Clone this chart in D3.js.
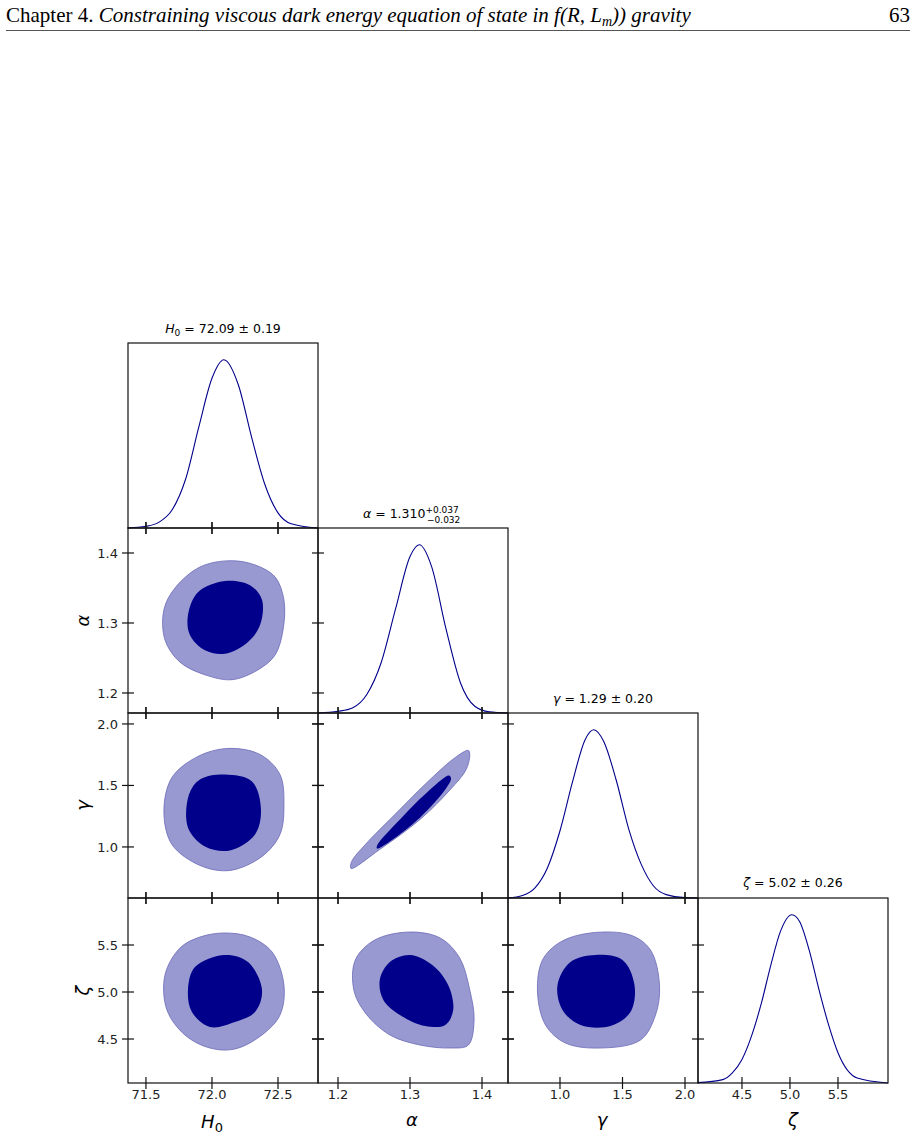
<!DOCTYPE html><html><head><meta charset="utf-8">
<script src="https://cdn.jsdelivr.net/npm/d3@7"></script>
<style>body{margin:0;background:#fff}</style></head><body>
<svg id="c" width="916" height="1137"></svg>
<script>
const params = ["H0","alpha","gamma","zeta"];
const axisLabels = ["H","α","γ","ζ"];
const titles = ["H0","alpha","gamma","zeta"];
const domains = [[71.364,72.803],[1.1722,1.4361],[0.584,2.104],[4.042,6.021]];
const yDomains = [null,[1.1714,1.4357],[0.585,2.089],[4.032,6.0]];
const ticks = [[71.5,72.0,72.5],[1.2,1.3,1.4],[1.0,1.5,2.0],[4.5,5.0,5.5]];
const tickFmt = [".1f",".1f",".1f",".1f"];
// 1D marginal densities
const dx = [
 [71.36,71.5,71.6,71.7,71.8,71.9,72.0,72.09,72.2,72.3,72.4,72.5,72.6,72.8],
 [1.172,1.2,1.22,1.24,1.26,1.28,1.30,1.313,1.33,1.35,1.37,1.39,1.41,1.436],
 [0.584,0.7,0.8,0.9,1.0,1.1,1.2,1.27,1.35,1.45,1.55,1.65,1.75,1.85,2.0,2.1],
 [4.04,4.3,4.4,4.5,4.6,4.7,4.8,4.9,5.02,5.1,5.2,5.3,5.4,5.5,5.7,6.02]];
const dy = [
 [0.0,0.01,0.035,0.11,0.29,0.6,0.89,1.0,0.85,0.54,0.26,0.09,0.025,0.0],
 [0,0.01,0.03,0.11,0.3,0.62,0.93,1.0,0.87,0.5,0.18,0.04,0.007,0],
 [0,0.015,0.06,0.18,0.4,0.69,0.94,1.0,0.93,0.7,0.41,0.2,0.07,0.02,0.002,0],
 [0.002,0.02,0.06,0.14,0.28,0.47,0.7,0.9,1.0,0.96,0.79,0.56,0.35,0.18,0.03,0.0]];
// 2D contours: [col,row, outerX, outerY, innerX, innerY]
const c_H0_alpha_outer_x=[72.136,72.326,72.477,72.545,72.538,72.477,72.348,72.152,71.947,71.758,71.644,71.636,71.720,71.909];
const c_H0_alpha_outer_y=[1.389,1.383,1.366,1.333,1.290,1.254,1.233,1.219,1.226,1.244,1.276,1.319,1.350,1.380];
const c_H0_alpha_inner_x=[72.098,72.288,72.379,72.364,72.273,72.098,71.947,71.833,71.818,71.894];
const c_H0_alpha_inner_y=[1.360,1.354,1.333,1.297,1.273,1.256,1.261,1.283,1.311,1.344];
const c_H0_gamma_outer_x=[72.121,72.364,72.515,72.545,72.515,72.379,72.136,71.909,71.697,71.636,71.697,71.894];
const c_H0_gamma_outer_y=[1.801,1.752,1.589,1.346,1.102,0.923,0.809,0.850,1.020,1.289,1.565,1.736];
const c_H0_gamma_inner_x=[72.098,72.303,72.371,72.326,72.136,71.947,71.818,71.826,71.909];
const c_H0_gamma_inner_y=[1.589,1.533,1.305,1.102,0.972,1.004,1.159,1.427,1.549];
const c_H0_zeta_outer_x=[72.098,72.288,72.455,72.545,72.515,72.379,72.174,71.985,71.795,71.659,71.644,71.758,71.909];
const c_H0_zeta_outer_y=[5.628,5.585,5.426,5.074,4.755,4.543,4.394,4.404,4.543,4.809,5.181,5.468,5.585];
const c_H0_zeta_inner_x=[72.098,72.273,72.379,72.326,72.174,71.985,71.848,71.818,71.871];
const c_H0_zeta_inner_y=[5.394,5.319,5.021,4.787,4.681,4.628,4.787,5.021,5.266];
const c_alpha_gamma_outer_x=[1.218,1.258,1.314,1.356,1.378,1.383,1.381,1.363,1.328,1.279,1.238,1.219];
const c_alpha_gamma_outer_y=[0.825,0.980,1.224,1.467,1.630,1.752,1.785,1.728,1.549,1.264,1.020,0.882];
const c_alpha_gamma_inner_x=[1.254,1.272,1.314,1.349,1.357,1.354,1.328,1.286,1.255];
const c_alpha_gamma_inner_y=[0.988,1.045,1.240,1.467,1.557,1.581,1.467,1.224,1.020];
const c_alpha_zeta_outer_x=[1.300,1.342,1.369,1.383,1.389,1.381,1.356,1.314,1.272,1.238,1.222,1.224,1.251];
const c_alpha_zeta_outer_y=[5.638,5.574,5.362,5.021,4.702,4.436,4.404,4.436,4.543,4.777,5.021,5.340,5.553];
const c_alpha_zeta_inner_x=[1.300,1.331,1.353,1.360,1.349,1.321,1.286,1.263,1.258,1.272];
const c_alpha_zeta_inner_y=[5.394,5.287,5.074,4.809,4.649,4.638,4.755,4.915,5.128,5.319];
const c_gamma_zeta_outer_x=[1.244,1.564,1.724,1.796,1.764,1.644,1.324,1.044,0.884,0.820,0.860,1.004];
const c_gamma_zeta_outer_y=[5.628,5.606,5.447,5.074,4.755,4.489,4.404,4.457,4.649,5.000,5.340,5.532];
const c_gamma_zeta_inner_x=[1.284,1.500,1.596,1.564,1.404,1.164,1.020,0.980,1.084];
const c_gamma_zeta_inner_y=[5.394,5.340,5.074,4.787,4.638,4.649,4.809,5.074,5.319];
const contours=[
 [0,1,c_H0_alpha_outer_x,c_H0_alpha_outer_y,c_H0_alpha_inner_x,c_H0_alpha_inner_y],
 [0,2,c_H0_gamma_outer_x,c_H0_gamma_outer_y,c_H0_gamma_inner_x,c_H0_gamma_inner_y],
 [0,3,c_H0_zeta_outer_x,c_H0_zeta_outer_y,c_H0_zeta_inner_x,c_H0_zeta_inner_y],
 [1,2,c_alpha_gamma_outer_x,c_alpha_gamma_outer_y,c_alpha_gamma_inner_x,c_alpha_gamma_inner_y],
 [1,3,c_alpha_zeta_outer_x,c_alpha_zeta_outer_y,c_alpha_zeta_inner_x,c_alpha_zeta_inner_y],
 [2,3,c_gamma_zeta_outer_x,c_gamma_zeta_outer_y,c_gamma_zeta_inner_x,c_gamma_zeta_inner_y]];

const svg=d3.select("#c");
const F="DejaVu Sans, sans-serif";
// header
svg.append("text").attr("x",6).attr("y",22).attr("font-family","Liberation Serif, serif").attr("font-size",21)
 .html('Chapter 4. <tspan font-style="italic">Constraining viscous dark energy equation of state in f(R, L</tspan><tspan font-style="italic" font-size="14" dy="4">m</tspan><tspan font-style="italic" dy="-4">)) gravity</tspan>');
svg.append("text").attr("x",910).attr("y",22).attr("text-anchor","end").attr("font-family","Liberation Serif, serif").attr("font-size",21).text("63");
svg.append("line").attr("x1",6).attr("x2",910).attr("y1",30.5).attr("y2",30.5).attr("stroke","#555").attr("stroke-width",1);

const X0=128,Y0=343,W=190,H=185;
const xs=domains.map((d,i)=>d3.scaleLinear().domain(d).range([X0+i*W,X0+(i+1)*W]));
const ys=yDomains.map((d,i)=>d?d3.scaleLinear().domain(d).range([Y0+(i+1)*H,Y0+i*H]):null);
const line=d3.line().curve(d3.curveCatmullRomClosed);
const navy="#00008b";

// contours
contours.forEach(([c,r,ox,oy,ix,iy])=>{
 svg.append("path").attr("d",line(ox.map((v,k)=>[xs[c](v),ys[r](oy[k])]))).attr("fill","#9999d1").attr("stroke","#6a6ab8").attr("stroke-width",0.8);
 svg.append("path").attr("d",line(ix.map((v,k)=>[xs[c](v),ys[r](iy[k])]))).attr("fill",navy);
});
// 1D
for(let i=0;i<4;i++){
 const yy=d3.scaleLinear().domain([0,1.1]).range([Y0+(i+1)*H,Y0+i*H]);
 svg.append("path").attr("d",d3.line().curve(d3.curveMonotoneX)(dx[i].map((v,k)=>[xs[i](v),yy(dy[i][k])])))
  .attr("fill","none").attr("stroke",navy).attr("stroke-width",1.1);
}
// frames and ticks
for(let r=0;r<4;r++)for(let c=0;c<=r;c++){
 const x=X0+c*W,y=Y0+r*H;
 svg.append("rect").attr("x",x).attr("y",y).attr("width",W).attr("height",H).attr("fill","none").attr("stroke","#111").attr("stroke-width",1.2);
 const g=svg.append("g").attr("stroke","#111").attr("stroke-width",1.2);
 ticks[c].forEach(t=>{const px=xs[c](t);
  g.append("line").attr("x1",px).attr("x2",px).attr("y1",y+H-6).attr("y2",y+H+6);
  if(r!==c) g.append("line").attr("x1",px).attr("x2",px).attr("y1",y-6).attr("y2",y+6);});
 if(r!==c) ticks[r].forEach(t=>{const py=ys[r](t);
  g.append("line").attr("y1",py).attr("y2",py).attr("x1",x-6).attr("x2",x+6);
  g.append("line").attr("y1",py).attr("y2",py).attr("x1",x+W-6).attr("x2",x+W+6);});
}
// tick labels
for(let c=0;c<4;c++) ticks[c].forEach(t=>svg.append("text").attr("x",xs[c](t)).attr("y",1099).attr("text-anchor","middle")
 .attr("font-family",F).attr("font-size",13).attr("fill","#222").text(d3.format(tickFmt[c])(t)));
for(let r=1;r<4;r++) ticks[r].forEach(t=>svg.append("text").attr("x",118).attr("y",ys[r](t)+5).attr("text-anchor","end")
 .attr("font-family",F).attr("font-size",13).attr("fill","#222").text(d3.format(tickFmt[r])(t)));
// axis labels
const labX=[212,412,602,793];
svg.append("text").attr("x",labX[0]).attr("y",1128).attr("text-anchor","middle").attr("font-family",F).attr("font-size",18).attr("font-style","italic")
 .html('H<tspan font-size="13" dy="4" font-style="normal">0</tspan>');
[1,2,3].forEach(i=>svg.append("text").attr("x",labX[i]).attr("y",1126).attr("text-anchor","middle").attr("font-family",F).attr("font-size",18).attr("font-style","italic").text(axisLabels[i]));
[1,2,3].forEach(i=>svg.append("text").attr("transform",`translate(89,${Y0+i*H+H/2}) rotate(-90)`).attr("text-anchor","middle").attr("font-family",F).attr("font-size",18).attr("font-style","italic").text(axisLabels[i]));
// titles
const tY=[333,518,703,887];
const tx=c=>X0+c*W+W/2;
svg.append("text").attr("x",tx(0)).attr("y",tY[0]).attr("text-anchor","middle").attr("font-family",F).attr("font-size",12.5)
 .html('<tspan font-style="italic">H</tspan><tspan font-size="9" dy="3">0</tspan><tspan dy="-3"> = 72.09 ± 0.19</tspan>');
const ta=svg.append("text").attr("x",tx(1)-50).attr("y",tY[1]).attr("font-family",F).attr("font-size",12.5);
ta.html('<tspan font-style="italic">α</tspan> = 1.310');
ta.append("tspan").attr("font-size",9).attr("dy",-5).text("+0.037");
svg.append("text").attr("x",tx(1)+14).attr("y",tY[1]+5).attr("font-family",F).attr("font-size",9).text("−0.032");
svg.append("text").attr("x",tx(2)).attr("y",tY[2]).attr("text-anchor","middle").attr("font-family",F).attr("font-size",12.5)
 .html('<tspan font-style="italic">γ</tspan> = 1.29 ± 0.20');
svg.append("text").attr("x",tx(3)).attr("y",tY[3]).attr("text-anchor","middle").attr("font-family",F).attr("font-size",12.5)
 .html('<tspan font-style="italic">ζ</tspan> = 5.02 ± 0.26');
</script></body></html>
